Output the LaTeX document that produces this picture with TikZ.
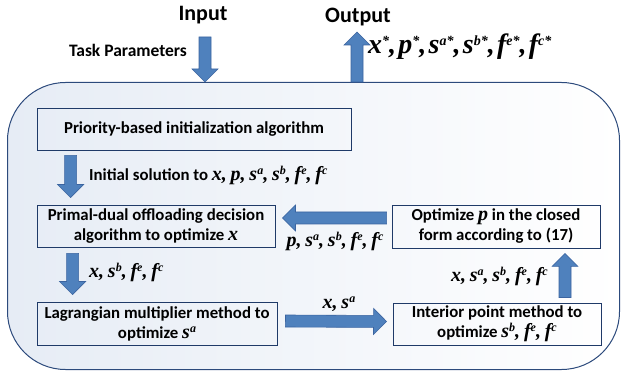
\documentclass[tikz,border=0pt]{standalone}
\usepackage{fontspec}
\setmainfont{Carlito}
\newfontfamily\varfont{Liberation Serif}
\usepackage{tikz}
\usetikzlibrary{calc,positioning}
\definecolor{arrfill}{HTML}{4F81BD}
\definecolor{arrline}{HTML}{3B64A0}
\definecolor{boxline}{HTML}{1F3A68}
\definecolor{panelfill}{HTML}{E6ECF5}
\definecolor{panelline}{HTML}{2C4A7C}
% bold italic variables with a superscript
\newcommand{\varsz}{20}
\newcommand{\supsz}{12}
\newcommand{\mv}[1]{{\varfont\bfseries\itshape\fontsize{\varsz}{\varsz}\selectfont #1}}
\newcommand{\sv}[2]{\mv{#1}\raisebox{0.3\dimexpr\varsz pt\relax}{\varfont\bfseries\itshape\fontsize{\supsz}{\supsz}\selectfont #2}}
\newcommand{\cm}{\mv{,} }
\tikzstyle{box}=[draw=boxline,line width=0.9pt,align=center,inner sep=0pt,font=\bfseries\fontsize{16.8}{20}\selectfont]
\tikzstyle{lbl}=[inner sep=1pt,font=\bfseries\fontsize{16.8}{20}\selectfont]
\tikzstyle{blk}=[fill=arrfill,draw=arrline,line width=0.6pt,
  to path={let \p1=(\tikztostart), \p2=(\tikztotarget),
    \n1={atan2(\y2-\y1,\x2-\x1)}, \n3={veclen(\x2-\x1,\y2-\y1)-13} in
    ([shift={(\p1)},rotate=\n1]0pt,-6pt) -- ([shift={(\p1)},rotate=\n1]\n3,-6pt)
    -- ([shift={(\p1)},rotate=\n1]\n3,-13pt) -- (\p2)
    -- ([shift={(\p1)},rotate=\n1]\n3,13pt) -- ([shift={(\p1)},rotate=\n1]\n3,6pt)
    -- ([shift={(\p1)},rotate=\n1]0pt,6pt) -- cycle}]

\begin{document}
\begin{tikzpicture}[x=1pt,y=-1pt]
  \useasboundingbox (0,0) rectangle (621,371);
  \node[draw=panelline,line width=1pt,rounded corners=58pt,left color=panelfill,right color=white,
        minimum width=612pt,minimum height=287pt,inner sep=0pt] (panel) at (313.5,226) {};
  % titles
  \node[font=\bfseries\fontsize{22}{22}\selectfont] (input) at (203,15) {Input};
  \node[font=\bfseries\fontsize{22}{22}\selectfont] (output) at (358,17) {Output};
  \node[lbl,font=\bfseries\fontsize{17.5}{20}\selectfont] (task) at (128,50) {Task Parameters};
  \node[lbl,anchor=west,font=\renewcommand{\varsz}{28}\renewcommand{\supsz}{14}] (result) at (367,47)
    {\sv{x}{*}\cm\sv{p}{*}\cm\sv{s}{a*}\cm\sv{s}{b*}\cm\sv{f}{e*}\cm\sv{f}{c*}};
  \coordinate (intop) at (205,37);
  \coordinate (outtop) at (357,32);
  % steps
  \node[box,minimum width=314pt,minimum height=42pt] (init) at (194,129)
    {Priority-based initialization algorithm};
  \node[box,minimum width=238pt,minimum height=42pt] (primal) at (156,226)
    {Primal-dual offloading decision\\ algorithm to optimize \mv{x}};
  \node[box,minimum width=208pt,minimum height=43pt] (closed) at (496,226.5)
    {Optimize \mv{p} in the closed\\ form according to (17)};
  \node[box,minimum width=240pt,minimum height=43pt] (lagr) at (157,323.5)
    {Lagrangian multiplier method to\\ optimize \sv{s}{a}};
  \node[box,minimum width=208pt,minimum height=42pt] (interior) at (497,324)
    {Interior point method to\\ optimize \sv{s}{b}\cm\sv{f}{e}\cm\sv{f}{c}};
  % arrows
  \draw[blk] (intop) to (intop |- panel.north);
  \draw[blk] (outtop |- panel.north) to (outtop);
  \draw[blk] ($(init.south west)+(34,5)$) to ($(primal.north west)+(34,-7)$);
  \draw[blk] ($(primal.south west)+(36,6)$) to ($(lagr.north west)+(36,-7)$);
  \draw[blk] ($(lagr.east)+(8,-2.5)$) to ($(interior.west)+(-6,-2.5)$);
  \draw[blk] ($(interior.north)+(68,-5)$) to ($(closed.south)+(69,5)$);
  \draw[blk] ($(closed.west)+(-5,-8.5)$) to ($(primal.east)+(7,-8)$);
  % labels
  \node[lbl,anchor=west] (l1) at (88,175)
    {Initial solution to \mv{x}\cm\mv{p}\cm\sv{s}{a}\cm\sv{s}{b}\cm\sv{f}{e}\cm\sv{f}{c}};
  \node[lbl,anchor=west] (l2) at (88,272) {\mv{x}\cm\sv{s}{b}\cm\sv{f}{e}\cm\sv{f}{c}};
  \node[lbl] (l3) at (339,304) {\mv{x}\cm\sv{s}{a}};
  \node[lbl,anchor=east] (l4) at (549,276) {\mv{x}\cm\sv{s}{a}\cm\sv{s}{b}\cm\sv{f}{e}\cm\sv{f}{c}};
  \node[lbl] (l5) at (335,241) {\mv{p}\cm\sv{s}{a}\cm\sv{s}{b}\cm\sv{f}{e}\cm\sv{f}{c}};
\end{tikzpicture}
\end{document}
